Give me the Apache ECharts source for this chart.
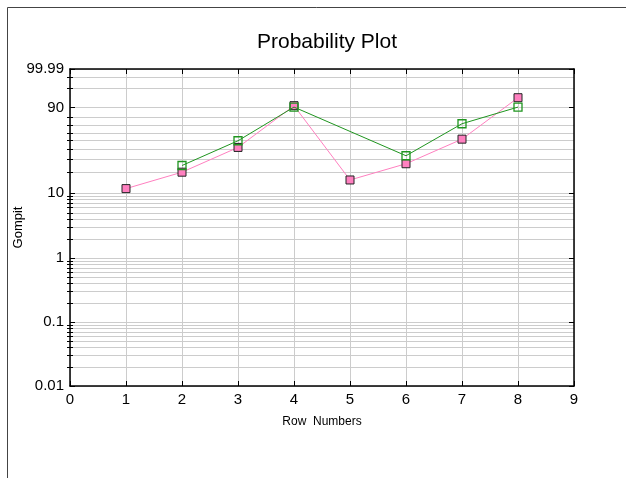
<!DOCTYPE html>
<html>
<head>
<meta charset="utf-8">
<script src="https://cdn.jsdelivr.net/npm/echarts@6/dist/echarts.min.js"></script>
<style>
html,body{margin:0;padding:0;background:#fff;}
#c{width:626px;height:478px;}
</style>
</head>
<body>
<div id="c"></div>
<script>
// ---- data ----
const titleText = 'Probability Plot';
const xName = 'Row  Numbers';
const yName = 'Gompit';
const xTicks = [0, 1, 2, 3, 4, 5, 6, 7, 8, 9];
const yMajorPct = [0.01, 0.1, 1, 10, 90, 99.99];
const yMajorLabels = ['0.01', '0.1', '1', '10', '90', '99.99'];
const yMinorPct = [0.02, 0.03, 0.04, 0.05, 0.06, 0.07, 0.08, 0.09,
                   0.2, 0.3, 0.4, 0.5, 0.6, 0.7, 0.8, 0.9,
                   2, 3, 4, 5, 6, 7, 8, 9,
                   20, 30, 40, 50, 60, 70, 80,
                   99, 99.9];
const rowsA = [1, 2, 3, 4, 5, 6, 7, 8];
const pctA = [11.6, 20, 42, 91.4, 15.5, 26.1, 52, 96.2];
const rowsB = [2, 3, 4, 6, 7, 8];
const pctB = [24.7, 50, 90.3, 33.2, 72.2, 90.3];

// ---- gompit (complementary log-log) transform ----
const gompit = p => Math.log(-Math.log(1 - p / 100));
const yMin = gompit(yMajorPct[0]);
const yMax = gompit(yMajorPct[yMajorPct.length - 1]);
const majorT = yMajorPct.map(gompit);
const minorT = yMinorPct.map(gompit);
const labelFor = v => {
  for (let i = 0; i < majorT.length; i++) if (Math.abs(majorT[i] - v) < 1e-6) return yMajorLabels[i];
  return '';
};

const FONT = 'Liberation Sans, Arial, sans-serif';
const gridGrey = '#cccccc';
const blackLine = {show: true, onZero: false, lineStyle: {color: '#000', width: 1.5}};

function yAx(pos, ticks, len, withLabel, withLine, split) {
  return {
    type: 'value', position: pos, min: yMin, max: yMax,
    name: withLabel ? yName : '',
    nameLocation: 'middle', nameGap: 45, nameMoveOverlap: false,
    nameTextStyle: {fontFamily: FONT, fontSize: 13, color: '#000'},
    axisLine: withLine ? blackLine : {show: false},
    axisTick: {show: true, inside: true, length: len, customValues: ticks,
               lineStyle: {color: '#000', width: 1}},
    axisLabel: withLabel ? {show: true, customValues: majorT, formatter: labelFor,
               fontFamily: FONT, fontSize: 15, color: '#000', margin: 6} : {show: false},
    splitLine: split ? {show: true, lineStyle: {color: gridGrey, width: 1}} : {show: false}
  };
}

const chart = echarts.init(document.getElementById('c'), null, {renderer: 'canvas'});
chart.setOption({
  animation: false,
  backgroundColor: '#fff',
  title: {
    text: titleText, left: 322, top: 27, textAlign: 'center',
    textStyle: {fontFamily: FONT, fontSize: 21, fontWeight: 'normal', color: '#000'}
  },
  grid: {left: 70, top: 69, width: 504, height: 317, containLabel: false, outerBoundsMode: 'none'},
  xAxis: [
    {
      type: 'value', position: 'bottom', min: xTicks[0], max: xTicks[xTicks.length - 1], interval: 1,
      name: xName, nameLocation: 'middle', nameGap: 30, nameMoveOverlap: false,
      nameTextStyle: {fontFamily: FONT, fontSize: 12, color: '#000'},
      axisLine: blackLine,
      axisTick: {show: true, inside: true, length: 5, lineStyle: {color: '#000'}},
      axisLabel: {fontFamily: FONT, fontSize: 15, color: '#000', margin: 6},
      splitLine: {show: true, lineStyle: {color: gridGrey, width: 1}}
    },
    {
      type: 'value', position: 'top', min: xTicks[0], max: xTicks[xTicks.length - 1], interval: 1,
      axisLine: blackLine,
      axisTick: {show: true, inside: true, length: 5, lineStyle: {color: '#000'}},
      axisLabel: {show: false},
      splitLine: {show: false}
    }
  ],
  yAxis: [
    yAx('left', majorT, 5, true, true, true),
    yAx('left', minorT, 3, false, false, true),
    yAx('right', majorT, 5, false, true, false),
    yAx('right', minorT, 3, false, false, false)
  ],
  graphic: [
    {type: 'line', shape: {x1: 7.5, y1: 7.5, x2: 7.5, y2: 478}, style: {stroke: '#444', lineWidth: 1}, silent: true},
    {type: 'line', shape: {x1: 7.5, y1: 7.5, x2: 626, y2: 7.5}, style: {stroke: '#444', lineWidth: 1}, silent: true}
  ],
  series: [
    {
      type: 'line', xAxisIndex: 0, yAxisIndex: 0,
      data: rowsA.map((r, i) => [r, gompit(pctA[i])]),
      symbol: 'rect', symbolSize: 8, showAllSymbol: true,
      lineStyle: {color: '#ff80c0', width: 1},
      itemStyle: {color: '#ff80c0', borderColor: '#222', borderWidth: 1},
      z: 3
    },
    {
      type: 'line', xAxisIndex: 0, yAxisIndex: 0,
      data: rowsB.map((r, i) => [r, gompit(pctB[i])]),
      symbol: 'rect', symbolSize: 8, showAllSymbol: true,
      lineStyle: {color: '#1f951f', width: 1},
      itemStyle: {color: 'rgba(0,0,0,0)', borderColor: '#1f951f', borderWidth: 1.3},
      z: 4
    }
  ]
});
</script>
</body>
</html>
